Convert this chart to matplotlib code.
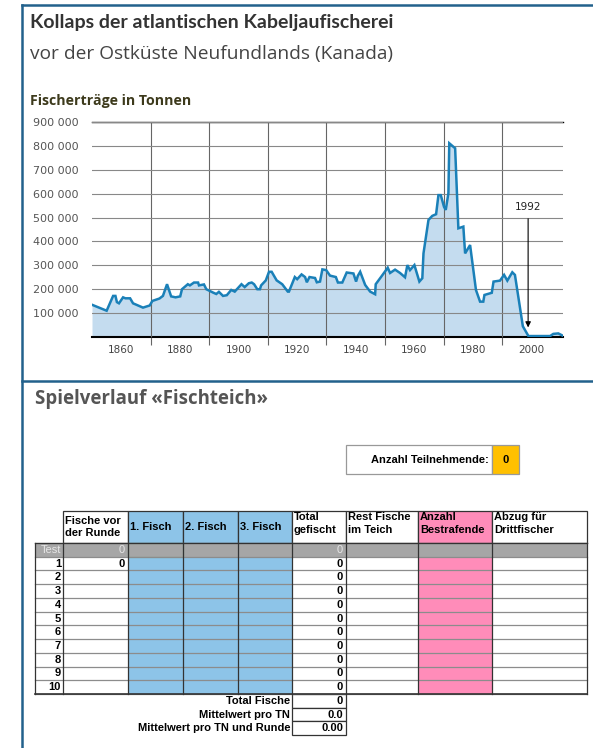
import matplotlib
matplotlib.use("Agg")
import matplotlib.pyplot as plt
from matplotlib.patches import Rectangle

# Fischerträge in Tonnen
years = [1850, 1855, 1857.2, 1858, 1858.5, 1859.2, 1860.6, 1861.4, 1863, 1864,
         1867.4, 1869.7, 1870.6, 1873, 1874.2, 1875.6, 1877, 1878.5, 1880.1, 1880.7,
         1882.7, 1883.4, 1884.8, 1886.2, 1886.5, 1888.2, 1889, 1891.3, 1892.4, 1893.3,
         1894.7, 1896, 1897.5, 1898.7, 1901, 1902.1, 1903.5, 1904.5, 1905.3, 1906.4,
         1907.3, 1907.7, 1909.3, 1910.4, 1911.3, 1913, 1914.9, 1916.8, 1917.2, 1919.2,
         1920, 1921.5, 1922.7, 1923.3, 1924.2, 1926.1, 1926.7, 1927.8, 1928.6, 1929.9,
         1931.2, 1933.2, 1933.9, 1935.4, 1936.9, 1939.2, 1940.1, 1940.7, 1941.5, 1943.2,
         1944.9, 1946.6, 1946.8, 1948.9, 1950.9, 1951.7, 1953.4, 1955.1, 1956.8, 1957.6,
         1958.5, 1960, 1961.7, 1962.7, 1963.1, 1964.8, 1966.1, 1967.4, 1968.2, 1969,
         1970.1, 1970.7, 1971.6, 1971.9, 1973.9, 1975, 1976.7, 1977.3, 1979, 1981,
         1982.4, 1983.5, 1983.9, 1986.4, 1987, 1989.2, 1990.6, 1991.7, 1993.4, 1994.3,
         1997, 1998.9, 2006.3, 2007.4, 2009.1, 2010.7]
catch = [135, 110, 172, 172, 146, 141, 166, 162, 162, 141,
         123, 132, 151, 161, 172, 221, 170, 166, 170, 200,
         221, 216, 228, 228, 216, 220, 200, 186, 180, 189,
         172, 175, 197, 190, 221, 209, 225, 228, 221, 200,
         200, 216, 237, 273, 273, 237, 221, 190, 190, 251,
         242, 262, 251, 229, 251, 247, 229, 232, 283, 280,
         257, 251, 228, 228, 270, 266, 232, 256, 273, 218,
         190, 179, 221, 256, 290, 268, 282, 268, 250, 301,
         280, 301, 232, 246, 350, 490, 507, 514, 594, 594,
         545, 532, 602, 811, 790, 455, 462, 350, 385, 197,
         148, 148, 176, 185, 232, 236, 260, 236, 271, 260,
         45, 4, 4, 13, 15, 5]
catch = [c * 1000 for c in catch]

y_ticks = [100000, 200000, 300000, 400000, 500000, 600000, 700000, 800000, 900000]
x_labels = [1860, 1880, 1900, 1920, 1940, 1960, 1980, 2000]
x_grid = [1870, 1890, 1910, 1930, 1950, 1970, 1990]
arrow_label = "1992"
arrow_x = 1998.8

# Spieltabelle
col_headers = ["", "Fische vor\nder Runde", "1. Fisch", "2. Fisch", "3. Fisch",
               "Total\ngefischt", "Rest Fische\nim Teich", "Anzahl\nBestrafende",
               "Abzug für\nDrittfischer"]
row_labels = ["Test", "1", "2", "3", "4", "5", "6", "7", "8", "9", "10"]
fische_vor = ["0", "0", "", "", "", "", "", "", "", "", ""]
total_gefischt = ["0", "0", "0", "0", "0", "0", "0", "0", "0", "0", "0"]
summary_labels = ["Total Fische", "Mittelwert pro TN", "Mittelwert pro TN und Runde"]
summary_values = ["0", "0.0", "0.00"]
teilnehmende = "0"

W, H = 593, 748
frame_c = "#22618c"
blue = "#8dc4e8"
pink = "#ff8cb9"
grey = "#a6a6a6"
tfont = ["Liberation Sans", "DejaVu Sans"]
hfont = ["Open Sans", "DejaVu Sans"]
lfont = ["Lato", "DejaVu Sans"]
fs_t = 8

fig = plt.figure(figsize=(W / 100, H / 100), dpi=100)
bg = fig.add_axes([0, 0, 1, 1])
bg.set_xlim(0, W)
bg.set_ylim(H, 0)
bg.axis("off")

# Rahmen
bg.plot([21.5, 21.5], [5, H], color=frame_c, lw=1.8)
bg.plot([21.5, W], [5, 5], color=frame_c, lw=1.8)
bg.plot([21.5, W], [381, 381], color=frame_c, lw=1.8)

bg.text(30, 22, "Kollaps der atlantischen Kabeljaufischerei", fontsize=14,
        fontweight="bold", color="#333333", va="center", family=lfont)
bg.text(30, 54, "vor der Ostküste Neufundlands (Kanada)", fontsize=13.8,
        color="#444444", va="center", family=hfont)
bg.text(30, 101, "Fischerträge in Tonnen", fontsize=10.2, fontweight="bold",
        color="#3d3a1c", va="center", family=hfont)

# Diagramm
ax = fig.add_axes([92 / W, 1 - 337 / H, (563 - 92) / W, (337 - 122) / H])
ax.fill_between(years, catch, color="#c4dcef", lw=0, zorder=1)
ax.plot(years, catch, color="#1a80b8", lw=1.8, zorder=3, solid_joinstyle="miter")
ax.set_xlim(1850, 2010.7)
ax.set_ylim(0, 900000)
ax.set_axisbelow(False)
for s in ["left", "right"]:
    ax.spines[s].set_visible(False)
ax.spines["bottom"].set_linewidth(1.5)
ax.spines["top"].set_linewidth(1.0)
ax.set_yticks(y_ticks)
ax.set_yticklabels([f"{v:,}".replace(",", " ") for v in y_ticks])
ax.tick_params(axis="y", length=0, pad=9.5, labelsize=8, labelcolor="#555555")
ax.set_xticks(x_grid)
ax.set_xticklabels([])
ax.tick_params(axis="x", which="major", length=6, width=0.8, color="#666666")
ax.set_xticks(x_labels, minor=True)
ax.set_xticklabels([str(v) for v in x_labels], minor=True)
ax.tick_params(axis="x", which="minor", length=0, pad=6, labelsize=7.5,
               labelcolor="#444444")
ax.grid(axis="x", which="major", color="#666666", lw=0.8, zorder=2)
ax.grid(axis="y", color="#888888", lw=0.8, zorder=2)
ax.annotate(arrow_label, xy=(arrow_x, 40000), xytext=(arrow_x, 545000),
            ha="center", va="center", fontsize=7.5, color="#222222",
            arrowprops=dict(arrowstyle="-|>", color="black", lw=0.8,
                            shrinkA=3, shrinkB=0, mutation_scale=8))

bg.text(35, 399, "Spielverlauf «Fischteich»", fontsize=13.4, fontweight="bold",
        color="#555555", va="center", family=hfont)

# Teilnehmende
bg.add_patch(Rectangle((346, 445), 146, 29, facecolor="white", edgecolor="#999999", lw=0.9))
bg.add_patch(Rectangle((492, 445), 27, 29, facecolor="#ffc000", edgecolor="#999999", lw=0.9))
bg.text(489, 459.5, "Anzahl Teilnehmende:", ha="right", va="center", fontsize=fs_t,
        fontweight="bold", family=tfont)
bg.text(505.5, 459.5, teilnehmende, ha="center", va="center", fontsize=fs_t,
        fontweight="bold", family=tfont)

# Tabelle
col_edges = [35, 63, 128, 183, 238, 292, 346, 418, 492, 587]
col_fill = ["white", "white", blue, blue, blue, "white", "white", pink, "white"]
head_top, head_bot = 511, 543
row_h = (694 - head_bot) / len(row_labels)
row_edges = [head_bot + i * row_h for i in range(len(row_labels) + 1)]

for j in range(1, len(col_headers)):
    x0, x1 = col_edges[j], col_edges[j + 1]
    bg.add_patch(Rectangle((x0, head_top), x1 - x0, head_bot - head_top,
                           facecolor=col_fill[j], edgecolor="#333333", lw=0.9))
    top_al = j >= 5
    bg.text(x0 + 2, head_top + 1.5 if top_al else (head_top + head_bot) / 2,
            col_headers[j], ha="left", va="top" if top_al else "center",
            fontsize=fs_t, fontweight="bold", family=tfont, linespacing=1.3)

for i, lab in enumerate(row_labels):
    y0, y1 = row_edges[i], row_edges[i + 1]
    for j in range(len(col_headers)):
        x0, x1 = col_edges[j], col_edges[j + 1]
        fc = grey if i == 0 else col_fill[j]
        bg.add_patch(Rectangle((x0, y0), x1 - x0, y1 - y0, facecolor=fc, lw=0))
    test = i == 0
    kw = dict(ha="right", va="center", fontsize=fs_t, family=tfont,
              fontweight="normal" if test else "bold",
              color="#e6e6e6" if test else "black")
    ym = (y0 + y1) / 2
    bg.text(col_edges[1] - 2, ym, lab, **kw)
    bg.text(col_edges[2] - 3, ym, fische_vor[i], **kw)
    bg.text(col_edges[6] - 3, ym, total_gefischt[i], **kw)

for y in row_edges:
    bg.plot([col_edges[0], col_edges[-1]], [y, y], color="#8c8c8c", lw=0.9)
for x in col_edges:
    bg.plot([x, x], [head_bot, row_edges[-1]], color="#333333", lw=0.9)
bg.plot([col_edges[0], col_edges[-1]], [head_bot, head_bot], color="#333333", lw=0.9)
bg.plot([col_edges[0], col_edges[-1]], [row_edges[-1], row_edges[-1]], color="#333333", lw=1.2)
bg.add_patch(Rectangle((col_edges[2], row_edges[0]), col_edges[3] - col_edges[2],
                       row_edges[1] - row_edges[0], facecolor="none",
                       edgecolor="#5cb85c", lw=0.8))

# Zusammenfassung
sum_top = row_edges[-1]
for k, (lab, val) in enumerate(zip(summary_labels, summary_values)):
    y0 = sum_top + k * 13.7
    bg.add_patch(Rectangle((col_edges[5], y0), col_edges[6] - col_edges[5], 13.7,
                           facecolor="white", edgecolor="#333333", lw=0.9))
    bg.text(col_edges[5] - 2, y0 + 6.85, lab, ha="right", va="center", fontsize=fs_t,
            fontweight="bold", family=tfont)
    bg.text(col_edges[6] - 3, y0 + 6.85, val, ha="right", va="center", fontsize=fs_t,
            fontweight="bold", family=tfont)

fig.savefig("out.png", dpi=100)
